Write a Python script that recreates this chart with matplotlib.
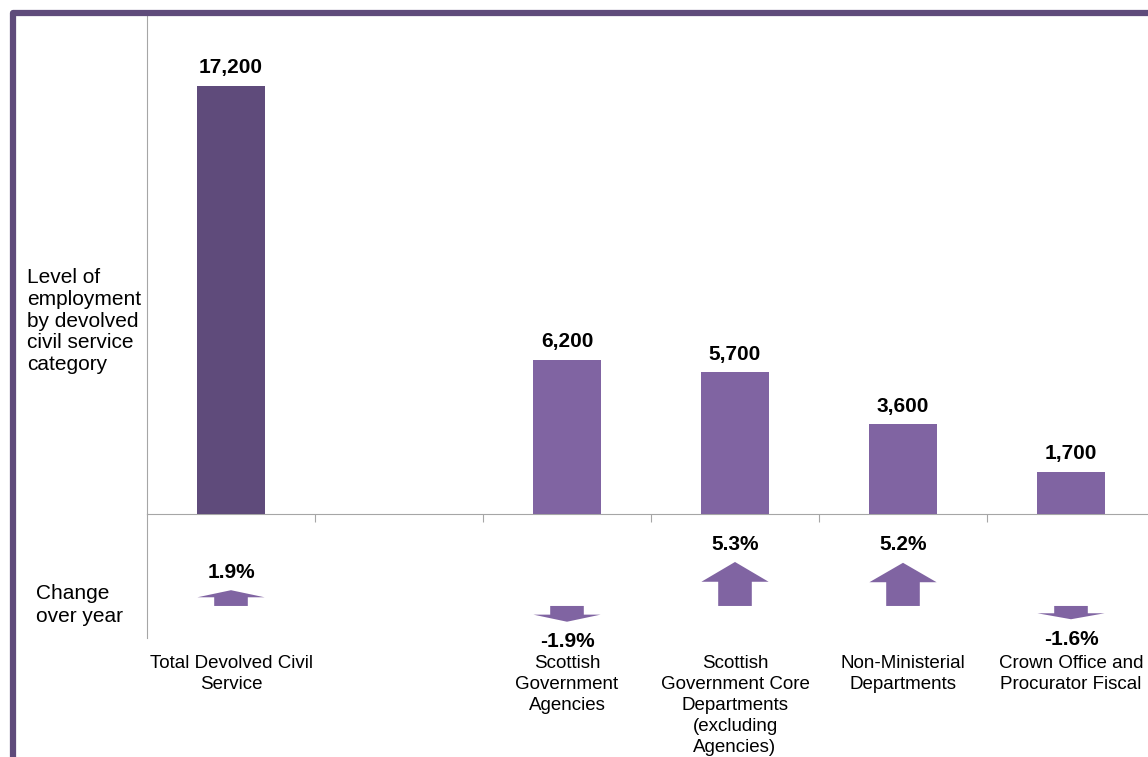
import matplotlib
matplotlib.use("Agg")
import matplotlib.pyplot as plt
from matplotlib.lines import Line2D
import numpy as np

# data
categories = ["Total Devolved Civil\nService", "",
              "Scottish\nGovernment\nAgencies",
              "Scottish\nGovernment Core\nDepartments\n(excluding\nAgencies)",
              "Non-Ministerial\nDepartments",
              "Crown Office and\nProcurator Fiscal"]
employment = [17200, None, 6200, 5700, 3600, 1700]
change = [1.9, None, -1.9, 5.3, 5.2, -1.6]

dark = "#5f4b7b"
purple = "#8064a2"
grey = "#a6a6a6"

plt.rcParams["font.family"] = ["Liberation Sans", "DejaVu Sans"]

W, H = 1148, 757
fig = plt.figure(figsize=(W / 100, H / 100), dpi=100)

def px_axes(left, top, right, bottom):
    return fig.add_axes([left / W, 1 - bottom / H, (right - left) / W, (bottom - top) / H])

x = np.arange(len(categories))

# bottom panel: change over year arrows (added first so the top panel's axis line sits over it)
ax2 = px_axes(147, 514, 1155, 638)
ax2.patch.set_visible(False)
shaft_w = 0.2
head_w = 0.4
for i, c in enumerate(change):
    if c is None:
        continue
    head = 0.45 * c
    xs = [x[i] - shaft_w / 2, x[i] - shaft_w / 2, x[i] - head_w / 2, x[i],
          x[i] + head_w / 2, x[i] + shaft_w / 2, x[i] + shaft_w / 2]
    ys = [0, c - head, c - head, c, c - head, c - head, 0]
    ax2.fill(xs, ys, color=purple, zorder=3, lw=0)
    ax2.annotate(f"{c}%", (x[i], c), xytext=(0, 6 if c > 0 else -7.5),
                 textcoords="offset points", ha="center",
                 va="bottom" if c > 0 else "top", fontsize=15, fontweight="bold")
ax2.set_xlim(-0.5, len(categories) - 0.5)
ax2.set_ylim(-3.86, 11.08)
ax2.set_yticks([])
ax2.set_xticks(x)
ax2.set_xticklabels(categories, fontsize=13.5, linespacing=1.3)
ax2.tick_params(axis="x", length=0, pad=12.5)
for s in ["top", "right", "bottom"]:
    ax2.spines[s].set_visible(False)
ax2.spines["left"].set_color(grey)

# top panel: level of employment
ax = px_axes(147, 16, 1155, 514)
ax.patch.set_visible(False)
for i, v in enumerate(employment):
    if v is None:
        continue
    ax.bar(x[i], v, width=0.4, color=dark if i == 0 else purple, zorder=3)
    ax.annotate(f"{v:,}", (x[i], v), xytext=(0, 6), textcoords="offset points",
                ha="center", va="bottom", fontsize=15, fontweight="bold")
ax.set_xlim(-0.5, len(categories) - 0.5)
ax.set_ylim(0, 20000)
ax.set_yticks([])
ax.set_xticks(x[1:] - 0.5)
ax.tick_params(axis="x", length=6, color=grey, labelbottom=False, direction="out")
for s in ["top", "right"]:
    ax.spines[s].set_visible(False)
ax.spines["left"].set_color(grey)
ax.spines["bottom"].set_color(grey)

# row labels on the left
fig.text(27 / W, 1 - 321 / H, "Level of\nemployment\nby devolved\ncivil service\ncategory",
         ha="left", va="center", fontsize=15, linespacing=1.17)
fig.text(36 / W, 1 - 605 / H, "Change\nover year", ha="left", va="center",
         fontsize=15, linespacing=1.3)

# purple frame round the chart
fig.add_artist(Line2D([12.5 / W, 12.5 / W, 1.0], [0.0, 1 - 13 / H, 1 - 13 / H],
                      transform=fig.transFigure, color=dark, lw=4.5,
                      solid_joinstyle="round"))

fig.savefig("out.png", dpi=100)
